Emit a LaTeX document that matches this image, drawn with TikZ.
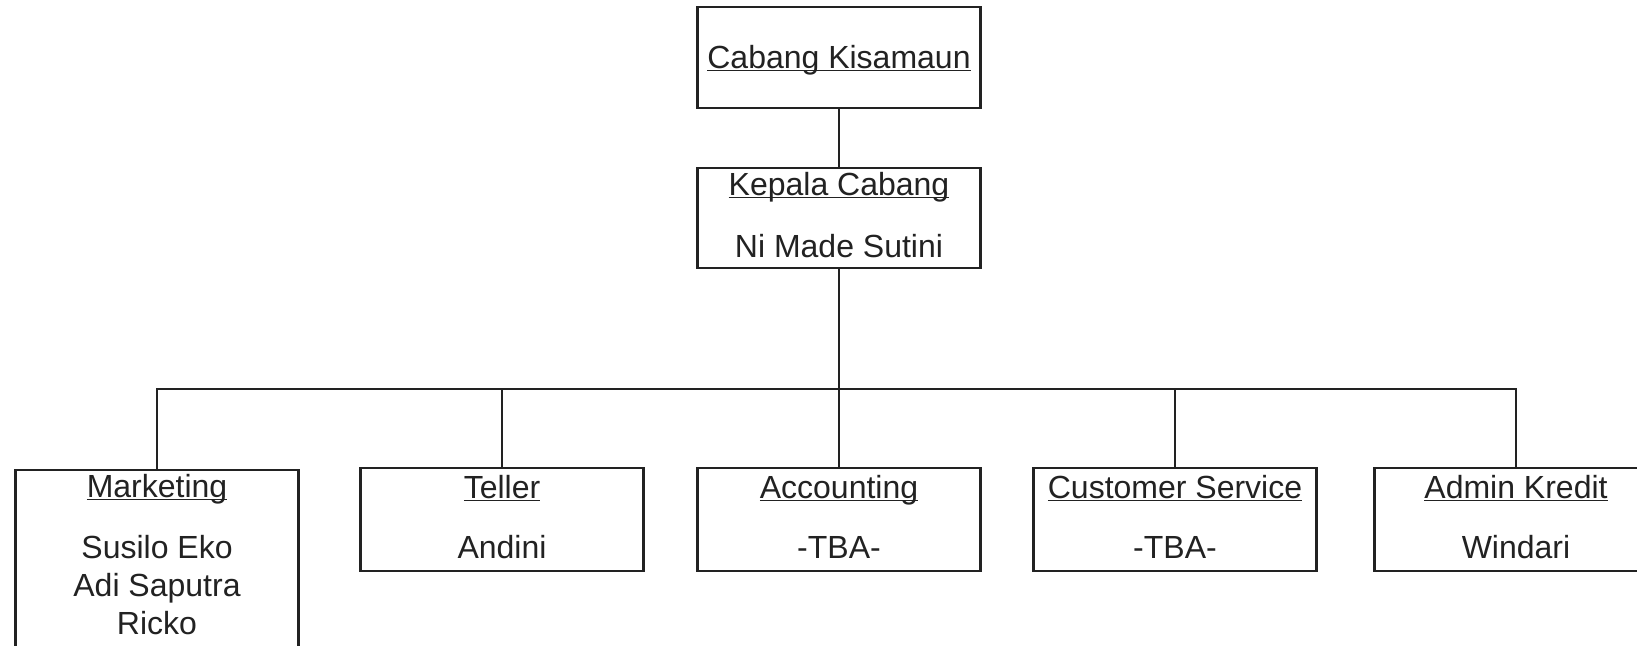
\documentclass[tikz,border=0pt]{standalone}
\usepackage{fontspec}
\setmainfont{Liberation Sans}
\definecolor{ink}{HTML}{222222}
\newcommand\myul[1]{\setbox0\hbox{#1}\rlap{\rule[-3.4pt]{\wd0}{1.9pt}}\box0}
\begin{document}
\begin{tikzpicture}[x=1pt,y=-1pt,
  box/.style={draw=ink,line width=2.6pt,minimum width=283pt,minimum height=102pt,inner sep=0pt,outer sep=0pt},
  txt/.style={anchor=base,inner sep=0pt,text=ink,font=\fontsize{32}{37.7}\selectfont},
  link/.style={draw=ink,line width=2.6pt}]
\clip (0,0) rectangle (1637,645);
\fill[white] (0,0) rectangle (1637,645);
% boxes
\node[box,minimum height=101pt] (top) at (839,57.5) {};
\node[box,minimum height=100pt] (kep) at (839,218) {};
\node[box,minimum height=103pt] (tel) at (502,519.5) {};
\node[box,minimum height=103pt] (acc) at (839,519.5) {};
\node[box,minimum height=103pt] (cs) at (1175,519.5) {};
\node[box,minimum height=103pt] (adm) at (1516,519.5) {};
\node[box,minimum height=200pt] (mkt) at (157,570) {};
% texts
\node[txt] (t1) at (839,68) {\myul{Cabang Kisamaun}};
\node[txt] (t2) at (839,195) {\myul{Kepala Cabang}};
\node[txt] (t3) at (839,257) {Ni Made Sutini};
\node[txt] (t4) at (157,497) {\myul{Marketing}};
\node[txt] (t5) at (157,558) {Susilo Eko};
\node[txt] (t6) at (157,596) {Adi Saputra};
\node[txt] (t7) at (157,634) {Ricko};
\node[txt] (t8) at (502,498) {\myul{Teller}};
\node[txt] (t9) at (502,558) {Andini};
\node[txt] (t10) at (839,498) {\myul{Accounting}};
\node[txt] (t11) at (839,558) {-TBA-};
\node[txt] (t12) at (1175,498) {\myul{Customer Service}};
\node[txt] (t13) at (1175,558) {-TBA-};
\node[txt] (t14) at (1516,498) {\myul{Admin Kredit}};
\node[txt] (t15) at (1516,558) {Windari};
% connectors
\coordinate (bus) at (839,389);
\draw[link] (top) -- (kep);
\draw[link] (kep) -- (acc);
\draw[link] (mkt.north) |- (bus) -| (adm.north);
\draw[link] (tel.north) -- (tel.north |- bus);
\draw[link] (cs.north) -- (cs.north |- bus);
\end{tikzpicture}
\end{document}
